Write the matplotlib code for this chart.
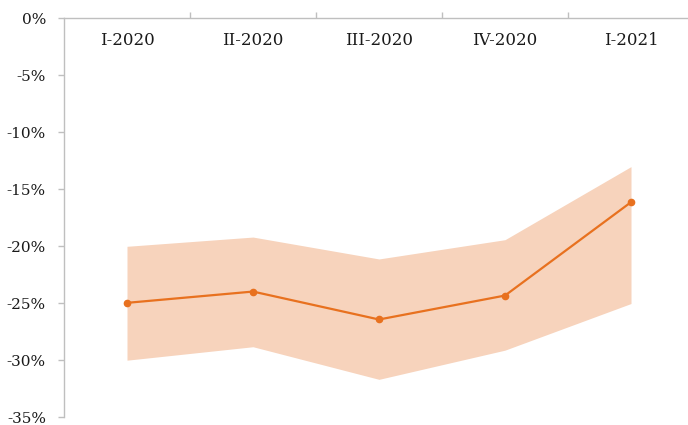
import numpy as np
import matplotlib
matplotlib.use("Agg")
from matplotlib import pyplot as plt

# quarterly values (%)
quarters = ["I-2020", "II-2020", "III-2020", "IV-2020", "I-2021"]
central = [-24.96, -23.97, -26.42, -24.32, -16.13]
upper = [-20.0, -19.19, -21.11, -19.42, -13.01]
lower = [-29.99, -28.81, -31.67, -29.11, -25.02]
y_ticks = [0, -5, -10, -15, -20, -25, -30, -35]

ORANGE = "#E8711F"
BAND = "#F7D3BC"
GREY = "#BFBFBF"

plt.rcParams['font.family'] = ['DejaVu Serif']

fig = plt.figure(figsize=(6.88, 4.25), dpi=100)
# axes runs a bit past the right edge, like in the source image
ax = fig.add_axes([64 / 688, 1 - 417.3 / 425, 630 / 688, (417.3 - 18.3) / 425])

x = np.arange(len(quarters))
ax.fill_between(x, lower, upper, color=BAND, linewidth=0)
ax.plot(x, central, color=ORANGE, lw=1.6, marker="o", ms=4.5, zorder=3)

ax.set_xlim(-0.5, len(quarters) - 0.5)
ax.set_ylim(-35, 0)

# category axis sits on top at 0%
for s in ["right", "bottom"]:
    ax.spines[s].set_visible(False)
for s in ["top", "left"]:
    ax.spines[s].set_color(GREY)
    ax.spines[s].set_linewidth(1)

ax.xaxis.tick_top()
ax.set_xticks(np.arange(0.5, len(quarters)), [""] * len(quarters))
ax.tick_params(axis="x", direction="out", length=4, color=GREY, width=1)

for i, q in enumerate(quarters):
    ax.text(i, -1.95, q, ha="center", va="center", fontsize=12, color="#1a1a1a")

ax.set_yticks(y_ticks, [f"{v}%" for v in y_ticks])
ax.tick_params(axis="y", direction="out", length=4, color=GREY, width=1,
               labelsize=11, labelcolor="#1a1a1a", pad=9)

fig.savefig("out.png", dpi=100)
